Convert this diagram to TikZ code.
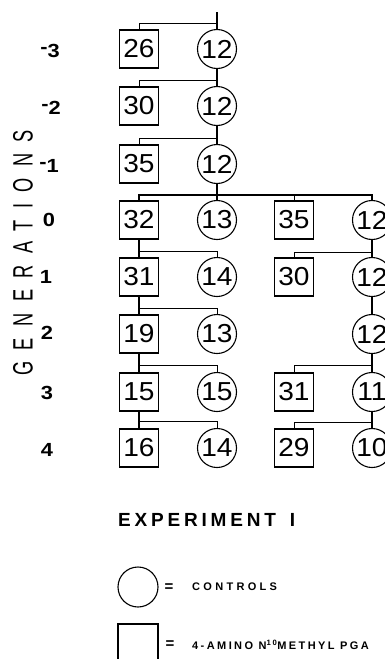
\documentclass[tikz,border=0pt]{standalone}
\usepackage{fontspec}
\setmainfont{Liberation Sans}
\newfontfamily\numfont[FakeStretch=1.08]{Liberation Sans}
\newfontfamily\labfont[FakeStretch=1.15]{Liberation Sans}
\newfontfamily\genfont[FakeStretch=0.65,LetterSpace=41]{Liberation Sans}
\newfontfamily\expfont[LetterSpace=20]{Liberation Sans}
\newfontfamily\ctrlfont[LetterSpace=30]{Liberation Sans}
\newfontfamily\drugfont[LetterSpace=22]{Liberation Sans}
\tikzset{
  sq/.style={draw, line width=1.1pt, minimum width=39pt, minimum height=38pt, inner sep=0pt, font=\numfont\fontsize{26}{26}\selectfont},
  ci/.style={draw, circle, line width=1.1pt, minimum size=39pt, inner sep=0pt, font=\numfont\fontsize{26}{26}\selectfont},
  trunk/.style={line width=2pt},
  thinl/.style={line width=0.9pt},
  gen/.style={font=\labfont\bfseries\fontsize{19}{19}\selectfont, inner sep=0pt},
}
\begin{document}
\begin{tikzpicture}[x=1pt,y=-1pt]
\useasboundingbox (0,0) rectangle (385,659);
\clip (0,0) rectangle (385,659);
% ---- left lineage
\node[sq] (sm3) at (139,49) {26};
\node[ci] (cm3) at (217,49) {12};
\node[sq] (sm2) at (139,106) {30};
\node[ci] (cm2) at (217,106) {12};
\node[sq] (sm1) at (139,164) {35};
\node[ci] (cm1) at (217,164) {12};
\node[sq] (s0) at (139,220) {32};
\node[ci] (c0) at (217,220) {13};
\node[sq] (s1) at (139,277) {31};
\node[ci] (c1) at (217,277) {14};
\node[sq] (s2) at (139,334) {19};
\node[ci] (c2) at (217,334) {13};
\node[sq] (s3) at (139,392) {15};
\node[ci] (c3) at (217,392) {15};
\node[sq] (s4) at (139,448) {16};
\node[ci] (c4) at (217,448) {14};
% ---- right lineage
\node[sq] (s0r) at (294,220) {35};
\node[ci] (c0r) at (372,220) {12};
\node[sq] (s1r) at (294,277) {30};
\node[ci] (c1r) at (372,277) {12};
\node[ci] (c2r) at (372,334) {12};
\node[sq] (s3r) at (294,392) {31};
\node[ci] (c3r) at (372,392) {11};
\node[sq] (s4r) at (294,448) {29};
\node[ci] (c4r) at (372,448) {10};
% ---- junction coordinates
\coordinate (top) at (217,12);
\coordinate (jm3) at (217,23);
\coordinate (jm2) at (217,80);
\coordinate (jm1) at (217,138);
\coordinate (j0) at (217,195);
\coordinate (j0r) at (294,195);
\coordinate (j1) at (139,251);
\coordinate (j2) at (139,308);
\coordinate (j3) at (139,365);
\coordinate (j4) at (139,421);
\coordinate (k1) at (372,252);
\coordinate (k3) at (372,365);
\coordinate (k4) at (372,422);
% ---- connectors
\draw[trunk] (top) -- (cm3) -- (cm2) -- (cm1) -- (c0);
\draw[thinl] (sm3.north) |- (jm3);
\draw[thinl] (sm2.north) |- (jm2);
\draw[thinl] (sm1.north) |- (jm1);
\draw[trunk] (s0.north) |- (j0) -| (c0r.north);
\draw[thinl] (s0r.north) -- (j0r);
\draw[trunk] (s0) -- (s1) -- (s2) -- (s3) -- (s4);
\draw[thinl] (j1) -| (c1.north);
\draw[thinl] (j2) -| (c2.north);
\draw[thinl] (j3) -| (c3.north);
\draw[thinl] (j4) -| (c4.north);
\draw[trunk] (c0r) -- (c1r) -- (c2r) -- (c3r) -- (c4r);
\draw[thinl] (k1) -| (s1r.north);
\draw[thinl] (k3) -| (s3r.north);
\draw[thinl] (k4) -| (s4r.north);
% ---- generation labels
\node[gen] (gm3) at (50,51) {\raisebox{4pt}{-}3};
\node[gen] (gm2) at (51,108) {\raisebox{4pt}{-}2};
\node[gen] (gm1) at (49,166) {\raisebox{4pt}{-}1};
\node[gen] (g0) at (49,220) {0};
\node[gen] (g1) at (46,277) {1};
\node[gen] (g2) at (47,333) {2};
\node[gen] (g3) at (47,393) {3};
\node[gen] (g4) at (47,450) {4};
\node[rotate=90, anchor=west, inner sep=0pt, font=\genfont\fontsize{28}{28}\selectfont] (gens) at (23,376) {GENERATIONS};
% ---- title
\node[anchor=west, inner sep=0pt, font=\expfont\bfseries\fontsize{19}{19}\selectfont] (exp) at (118,520) {EXPERIMENT\hspace{14pt}I};
% ---- legend
\node[draw, circle, line width=1.1pt, minimum size=40pt, inner sep=0pt] (lc) at (138,587) {};
\node[font=\bfseries\fontsize{15}{15}\selectfont, inner sep=0pt] (eq1) at (169,588) {=};
\node[anchor=west, inner sep=0pt, font=\ctrlfont\bfseries\fontsize{11}{11}\selectfont] (lct) at (192,587) {CONTROLS};
\node[draw, line width=1.1pt, minimum width=40pt, minimum height=40pt, inner sep=0pt] (ls) at (138,644) {};
\node[font=\bfseries\fontsize{15}{15}\selectfont, inner sep=0pt] (eq2) at (170,645) {=};
\node[anchor=west, inner sep=0pt, font=\drugfont\bfseries\fontsize{11}{11}\selectfont] (lst) at (192,645) {4-AMINO N\textsuperscript{10}METHYL PGA};
\end{tikzpicture}
\end{document}
